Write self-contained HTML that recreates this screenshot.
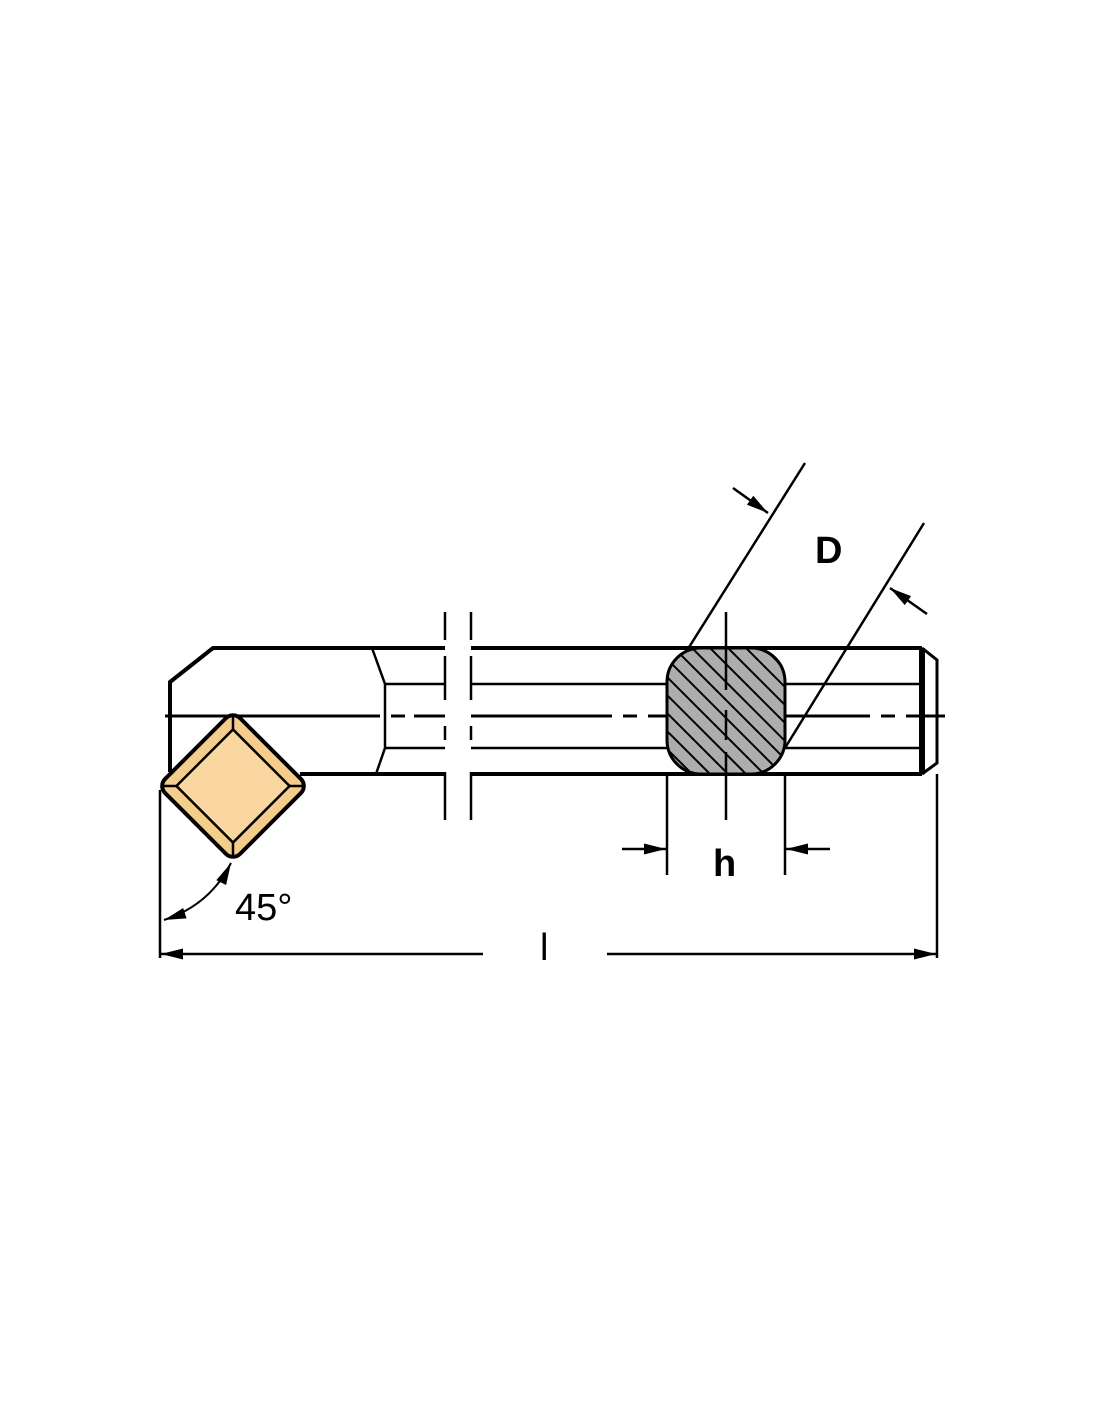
<!DOCTYPE html>
<html><head><meta charset="utf-8"><style>html,body{margin:0;padding:0;background:#fff}svg{display:block}</style></head>
<body>
<svg width="1100" height="1422" viewBox="0 0 1100 1422" xmlns="http://www.w3.org/2000/svg">
<defs>
<clipPath id="sec"><rect x="667" y="648" width="118" height="126" rx="34" ry="34"/></clipPath>
<marker id="ar" viewBox="0 0 20 10" refX="20" refY="5" markerWidth="22" markerHeight="12" markerUnits="userSpaceOnUse" orient="auto"><path d="M0,0 L20,5 L0,10 z" fill="#000"/></marker>
<marker id="ars" viewBox="0 0 20 10" refX="0" refY="5" markerWidth="22" markerHeight="12" markerUnits="userSpaceOnUse" orient="auto"><path d="M20,0 L0,5 L20,10 z" fill="#000"/></marker>
</defs>
<g stroke="#000" fill="none" stroke-linecap="butt">
<path d="M445,648 H213 L170,682 V772" stroke-width="4"/>
<line x1="471" y1="648" x2="922" y2="648" stroke-width="4"/>
<line x1="300" y1="774" x2="445" y2="774" stroke-width="4"/>
<line x1="471" y1="774" x2="922" y2="774" stroke-width="4"/>
<path d="M372,648 L385,684 V748 L376,774" stroke-width="2.5"/>
<line x1="385" y1="684" x2="445" y2="684" stroke-width="2.5"/>
<line x1="385" y1="748" x2="445" y2="748" stroke-width="2.5"/>
<line x1="471" y1="684" x2="922" y2="684" stroke-width="2.5"/>
<line x1="471" y1="748" x2="922" y2="748" stroke-width="2.5"/>
<line x1="165" y1="716" x2="380" y2="716" stroke-width="3"/>
<path d="M391,716 H405 M414,716 H445 M471,716 H612 M623,716 H637 M648,716 H667" stroke-width="3"/>
<path d="M785,716 H870 M881,716 H895 M906,716 H945" stroke-width="3"/>
<path d="M445,612 V640 M445,656 V700 M445,726 V740 M445,772 V820" stroke-width="2.5"/>
<path d="M471,612 V640 M471,656 V700 M471,726 V740 M471,772 V820" stroke-width="2.5"/>
<line x1="922" y1="648" x2="922" y2="774" stroke-width="6"/>
<path d="M922,648 L937,660 V763 L922,774" stroke-width="3"/>
</g>
<rect x="667" y="648" width="118" height="126" rx="34" ry="34" fill="#acadaf"/>
<g clip-path="url(#sec)" stroke="#000" stroke-width="2">
<path d="M540,640 l180,180 M558,640 l180,180 M576,640 l180,180 M594,640 l180,180 M612,640 l180,180 M630,640 l180,180 M648,640 l180,180 M666,640 l180,180 M684,640 l180,180 M702,640 l180,180 M720,640 l180,180 M738,640 l180,180 M756,640 l180,180 M774,640 l180,180"/>
</g>
<rect x="667" y="648" width="118" height="126" rx="34" ry="34" fill="none" stroke="#000" stroke-width="3"/>
<g stroke="#000" fill="none">
<path d="M726,612 V690 M726,710 V740 M726,752 V820" stroke-width="2.5"/>
<line x1="805" y1="463" x2="686" y2="652" stroke-width="2.5"/>
<line x1="924" y1="523" x2="785" y2="748" stroke-width="2.5"/>
<line x1="733" y1="488" x2="768" y2="513" stroke-width="2.5" marker-end="url(#ar)"/>
<line x1="927" y1="614" x2="890" y2="588" stroke-width="2.5" marker-end="url(#ar)"/>
<line x1="667" y1="774" x2="667" y2="875" stroke-width="2.5"/>
<line x1="785" y1="774" x2="785" y2="875" stroke-width="2.5"/>
<line x1="622" y1="849" x2="666" y2="849" stroke-width="2.5" marker-end="url(#ar)"/>
<line x1="830" y1="849" x2="786" y2="849" stroke-width="2.5" marker-end="url(#ar)"/>
<line x1="160" y1="790" x2="160" y2="958" stroke-width="2.5"/>
<line x1="937" y1="774" x2="937" y2="958" stroke-width="2.5"/>
<line x1="483" y1="954" x2="161" y2="954" stroke-width="2.5" marker-end="url(#ar)"/>
<line x1="607" y1="954" x2="936" y2="954" stroke-width="2.5" marker-end="url(#ar)"/>
<path d="M164,920 Q210,905 231,863" stroke-width="2" marker-end="url(#ar)" marker-start="url(#ars)"/>
</g>
<g transform="translate(233,786) rotate(45)">
<rect x="-53" y="-53" width="106" height="106" rx="10" ry="10" fill="#f5cd8a" stroke="#000" stroke-width="4"/>
<rect x="-40" y="-40" width="80" height="80" fill="#fad6a0" stroke="#000" stroke-width="2.5"/>
<path d="M-40,-40 L-50,-50 M40,-40 L50,-50 M40,40 L50,50 M-40,40 L-50,50" stroke="#000" stroke-width="2.5"/>
</g>
<g font-family="'Liberation Sans', sans-serif" fill="#000">
<text x="815" y="563" font-size="38" font-weight="bold">D</text>
<text x="713" y="876" font-size="38" font-weight="bold">h</text>
<text x="540" y="960" font-size="38">l</text>
<text x="235" y="920" font-size="38">45°</text>
</g>
</svg>
</body></html>
